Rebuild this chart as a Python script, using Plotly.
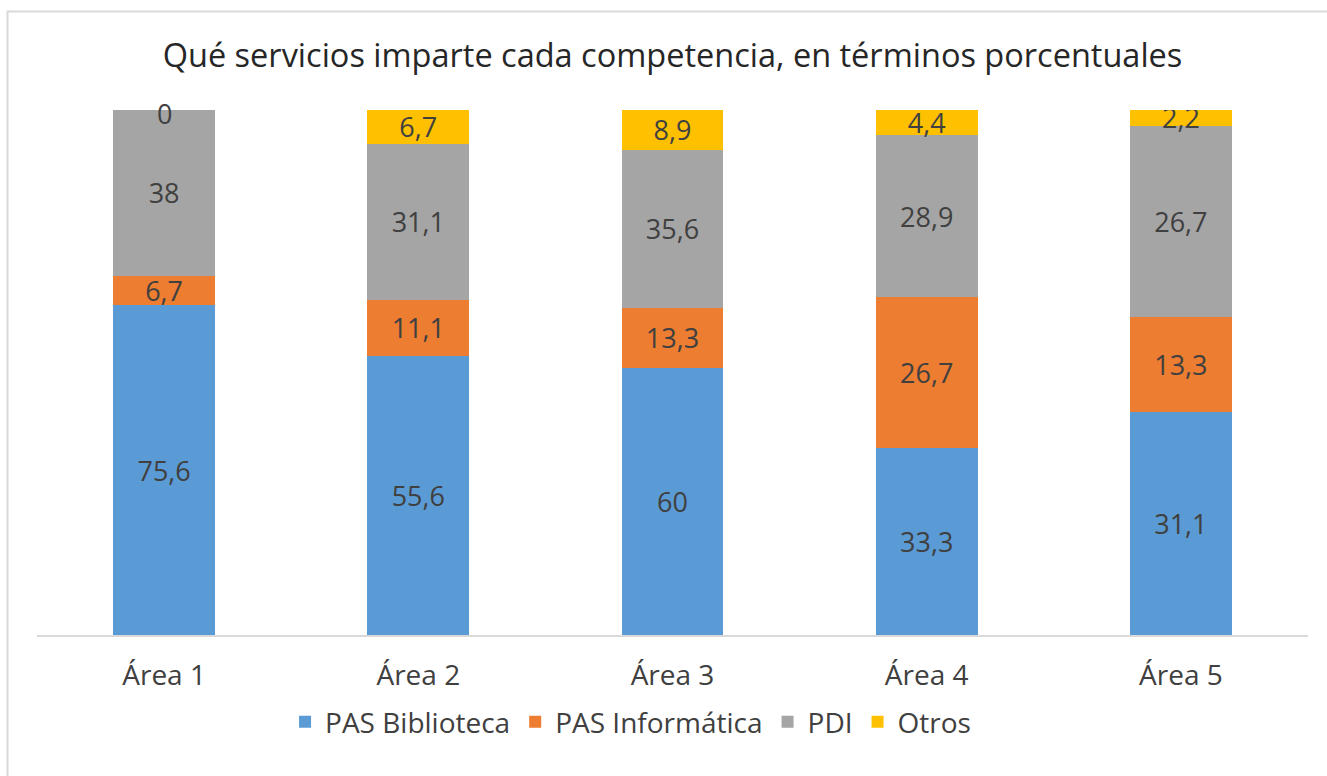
import plotly.graph_objects as go

categories = ["Área 1", "Área 2", "Área 3", "Área 4", "Área 5"]
pas_biblioteca = [75.6, 55.6, 60, 33.3, 31.1]
pas_informatica = [6.7, 11.1, 13.3, 26.7, 13.3]
pdi = [38, 31.1, 35.6, 28.9, 26.7]
otros = [0, 6.7, 8.9, 4.4, 2.2]

series = [
    ("PAS Biblioteca", pas_biblioteca, "#5B9BD5"),
    ("PAS Informática", pas_informatica, "#ED7D31"),
    ("PDI", pdi, "#A5A5A5"),
    ("Otros", otros, "#FFC000"),
]

FONT = "Open Sans"
TXT = "#404040"


def fmt(v):
    return f"{v:g}".replace(".", ",")


fig = go.Figure()
for name, vals, color in series:
    fig.add_trace(go.Bar(
        x=categories, y=vals, name=name,
        marker=dict(color=color, line=dict(width=0)),
        text=[fmt(v) for v in vals],
        textposition="inside", insidetextanchor="middle",
        textangle=0, constraintext="none",
        textfont=dict(family=FONT, size=27, color=TXT),
    ))

# labels for zero-height segments (drawn at their stacked position)
annotations = []
totals = [sum(s[1][i] for s in series) for i in range(len(categories))]
for i, cat in enumerate(categories):
    cum = 0
    for name, vals, color in series:
        cum += vals[i]
        if vals[i] == 0:
            annotations.append(dict(
                x=cat, y=cum / totals[i] * 100, xref="x", yref="y",
                text=fmt(vals[i]), showarrow=False, yanchor="middle", yshift=-3,
                font=dict(family=FONT, size=27, color=TXT)))

fig.update_layout(
    barmode="stack", barnorm="percent", bargap=0.6,
    width=1327, height=776,
    margin=dict(l=37, r=19, t=110, b=141),
    paper_bgcolor="white", plot_bgcolor="white",
    separators=",.",
    title=dict(text="Qué servicios imparte cada competencia, en términos porcentuales",
               x=0.5068, xanchor="center", y=1 - 56/776, yanchor="middle",
               font=dict(family=FONT, size=32.5, color="#262626")),
    showlegend=True,
    legend=dict(orientation="h", x=0.467, xanchor="center", y=-0.166, yanchor="middle",
                font=dict(family=FONT, size=28, color=TXT), traceorder="normal"),
    xaxis=dict(showline=True, linecolor="#D9D9D9", linewidth=2, ticks="",
               tickfont=dict(family=FONT, size=28, color=TXT), ticklabelstandoff=14),
    yaxis=dict(visible=False, range=[0, 100], showgrid=False, zeroline=False),
    annotations=annotations,
    shapes=[dict(type="rect", xref="paper", yref="paper",
                 x0=-0.0232, x1=1.02, y0=-0.28, y1=1.1875,
                 line=dict(color="#D9D9D9", width=2), fillcolor="rgba(0,0,0,0)",
                 layer="below")],
)

fig.write_html("out.html", config={"displayModeBar": False},
               post_script="document.body.style.margin='0';document.body.style.overflow='hidden';")
